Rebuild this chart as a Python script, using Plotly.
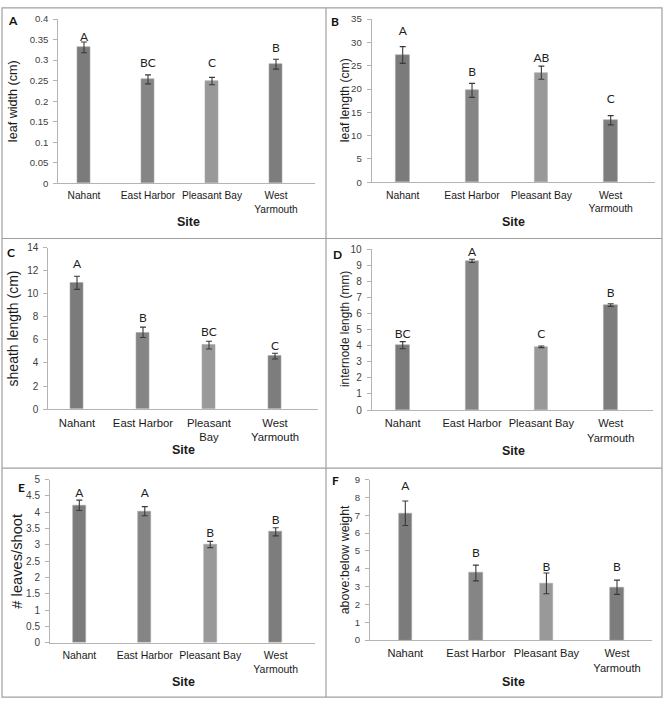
import plotly.graph_objects as go

# ---------------- data ----------------
sites = ["Nahant", "East Harbor", "Pleasant Bay", "West Yarmouth"]
site_ticks = ["Nahant", "East Harbor", "Pleasant Bay", "West<br>Yarmouth"]
site_ticks_wrapped = ["Nahant", "East Harbor", "Pleasant<br>Bay", "West<br>Yarmouth"]

leaf_width = [0.331, 0.253, 0.249, 0.290]
leaf_width_err = [0.013, 0.011, 0.009, 0.012]
leaf_width_letters = ["A", "BC", "C", "B"]
leaf_width_letter_y = [0.354, 0.291, 0.291, 0.326]
leaf_width_ticks = [0, 0.05, 0.1, 0.15, 0.2, 0.25, 0.3, 0.35, 0.4]
leaf_width_ticklabels = ["0", "0.05", "0.1", "0.15", "0.2", "0.25", "0.3", "0.35", "0.4"]

leaf_length = [27.3, 19.7, 23.5, 13.3]
leaf_length_err = [1.8, 1.5, 1.4, 1.0]
leaf_length_letters = ["A", "B", "AB", "C"]
leaf_length_letter_y = [32.3, 23.5, 26.5, 17.6]
leaf_length_ticks = [0, 5, 10, 15, 20, 25, 30, 35]

sheath_length = [10.96, 6.66, 5.55, 4.60]
sheath_length_err = [0.57, 0.45, 0.34, 0.25]
sheath_length_letters = ["A", "B", "BC", "C"]
sheath_length_letter_y = [12.5, 7.83, 6.6, 5.41]
sheath_length_ticks = [0, 2, 4, 6, 8, 10, 12, 14]

internode_length = [4.03, 9.27, 3.93, 6.52]
internode_length_err = [0.22, 0.10, 0.05, 0.08]
internode_length_letters = ["BC", "A", "C", "B"]
internode_length_letter_y = [4.68, 9.73, 4.68, 7.23]
internode_length_ticks = [0, 1, 2, 3, 4, 5, 6, 7, 8, 9, 10]

leaves_per_shoot = [4.21, 4.03, 3.01, 3.40]
leaves_per_shoot_err = [0.16, 0.14, 0.095, 0.125]
leaves_per_shoot_letters = ["A", "A", "B", "B"]
leaves_per_shoot_letter_y = [4.55, 4.55, 3.32, 3.74]
leaves_per_shoot_ticks = [0, 0.5, 1, 1.5, 2, 2.5, 3, 3.5, 4, 4.5, 5]
leaves_per_shoot_ticklabels = ["0", "0.5", "1", "1.5", "2", "2.5", "3", "3.5", "4", "4.5", "5"]

above_below = [7.11, 3.76, 3.18, 2.96]
above_below_err = [0.69, 0.44, 0.58, 0.40]
above_below_letters = ["A", "B", "B", "B"]
above_below_letter_y = [8.6, 4.83, 4.04, 4.04]
above_below_ticks = [0, 1, 2, 3, 4, 5, 6, 7, 8, 9]

# ---------------- layout helpers ----------------
W, H = 665, 708
BAR_COLORS = ["#7b7b7b", "#858585", "#999999", "#7d7d7d"]
AXIS_COLOR = "#b4b4b4"
FONT = "Liberation Sans"
LETTER_FONT = "Lato"


def px_x(x):
    return x / W


def px_y(y):
    return 1 - y / H


panels = [
    dict(tag="A", vals=leaf_width, err=leaf_width_err, letters=leaf_width_letters,
         letter_y=leaf_width_letter_y, ticks=leaf_width_ticks, ticklabels=leaf_width_ticklabels,
         cats=site_ticks, ytitle="leaf width (cm)", ymax=0.4,
         box=(58.3, 315, 13.3, 180.3), centers=(84, 276), ytitle_x=13, ytitle_size=12.6,
         cat_size=10.2, tick_size=9.6, site_y=220, site_x=188, tag_xy=(13, 15)),
    dict(tag="B", vals=leaf_length, err=leaf_length_err, letters=leaf_length_letters,
         letter_y=leaf_length_letter_y, ticks=leaf_length_ticks, ticklabels=None,
         cats=site_ticks, ytitle="leaf length (cm)", ymax=35,
         box=(371.7, 655, 13.3, 179.3), centers=(402.7, 610.7), ytitle_x=344.5, ytitle_size=12.2,
         cat_size=10.4, tick_size=9.6, site_y=220, site_x=513, tag_xy=(335, 16)),
    dict(tag="C", vals=sheath_length, err=sheath_length_err, letters=sheath_length_letters,
         letter_y=sheath_length_letter_y, ticks=sheath_length_ticks, ticklabels=None,
         cats=site_ticks_wrapped, ytitle="sheath length (cm)", ymax=14,
         box=(48.3, 318.3, 246, 410), centers=(77, 275), ytitle_x=13, ytitle_size=14,
         cat_size=11.3, tick_size=10, site_y=452, site_x=183, tag_xy=(11, 251)),
    dict(tag="D", vals=internode_length, err=internode_length_err, letters=internode_length_letters,
         letter_y=internode_length_letter_y, ticks=internode_length_ticks, ticklabels=None,
         cats=site_ticks, ytitle="internode length (mm)", ymax=10,
         box=(371.7, 653.3, 247.3, 411), centers=(402.7, 610.7), ytitle_x=344.5, ytitle_size=11.9,
         cat_size=11.1, tick_size=10, site_y=453, site_x=513, tag_xy=(337, 253)),
    dict(tag="E", vals=leaves_per_shoot, err=leaves_per_shoot_err, letters=leaves_per_shoot_letters,
         letter_y=leaves_per_shoot_letter_y, ticks=leaves_per_shoot_ticks,
         ticklabels=leaves_per_shoot_ticklabels,
         cats=site_ticks, ytitle="# leaves/shoot", ymax=5,
         box=(50, 315, 481.7, 647.7), centers=(79.3, 275.7), ytitle_x=17.5, ytitle_size=14.7,
         cat_size=10.5, tick_size=10, site_y=688, site_x=183, tag_xy=(21, 490)),
    dict(tag="F", vals=above_below, err=above_below_err, letters=above_below_letters,
         letter_y=above_below_letter_y, ticks=above_below_ticks, ticklabels=None,
         cats=site_ticks, ytitle="above:below weight", ymax=9,
         box=(370, 651.7, 481.7, 645), centers=(405.3, 617), ytitle_x=344.5, ytitle_size=12.4,
         cat_size=11.1, tick_size=9.6, site_y=688, site_x=513, tag_xy=(335, 483)),
]

fig = go.Figure()
annotations = []
layout_axes = {}

for i, p in enumerate(panels, start=1):
    xname = "x" if i == 1 else f"x{i}"
    yname = "y" if i == 1 else f"y{i}"
    xl, xr, yt, yb = p["box"]
    c0, c3 = p["centers"]
    step = (c3 - c0) / 3.0
    xrange = [-(c0 - xl) / step, 3 + (xr - c3) / step]
    bar_w = 13.3 / step

    fig.add_trace(go.Bar(
        x=sites, y=p["vals"], xaxis=xname, yaxis=yname,
        width=[bar_w] * 4,
        marker=dict(color=BAR_COLORS, line=dict(color="#a8a8a8", width=0.6)),
        error_y=dict(type="data", array=p["err"], visible=True,
                     color="#3a3a3a", thickness=1.1, width=3),
        showlegend=False, hoverinfo="skip",
    ))
    fig.add_trace(go.Scatter(
        x=sites, y=p["letter_y"], xaxis=xname, yaxis=yname,
        mode="text", text=p["letters"], textposition="middle center",
        textfont=dict(family=LETTER_FONT, size=12, color="#1f1f1f"),
        showlegend=False, hoverinfo="skip", cliponaxis=False,
    ))

    xkey = "xaxis" if i == 1 else f"xaxis{i}"
    ykey = "yaxis" if i == 1 else f"yaxis{i}"
    layout_axes[xkey] = dict(
        domain=[px_x(xl), px_x(xr)], anchor=yname,
        type="category", categoryorder="array", categoryarray=sites,
        range=xrange, tickmode="array", tickvals=sites, ticktext=p["cats"],
        showline=True, linecolor=AXIS_COLOR, linewidth=1,
        showgrid=False, zeroline=False, ticks="", ticklabelstandoff=3,
        tickfont=dict(family=FONT, size=p["cat_size"], color="#1a1a1a"),
        fixedrange=True,
    )
    yaxis = dict(
        domain=[px_y(yb), px_y(yt)], anchor=xname,
        range=[0, p["ymax"]], tickmode="array", tickvals=p["ticks"],
        showline=True, linecolor=AXIS_COLOR, linewidth=1,
        showgrid=False, zeroline=False, ticks="outside", ticklen=4,
        tickcolor=AXIS_COLOR, tickwidth=1, ticklabelstandoff=3,
        tickfont=dict(family=FONT, size=p["tick_size"], color="#404040"),
        fixedrange=True,
    )
    if p["ticklabels"] is not None:
        yaxis["ticktext"] = p["ticklabels"]
    layout_axes[ykey] = yaxis

    # y axis title
    annotations.append(dict(
        text=p["ytitle"], xref="paper", yref="paper",
        x=px_x(p["ytitle_x"]), y=px_y((yt + yb) / 2), textangle=-90,
        showarrow=False, xanchor="center", yanchor="middle",
        font=dict(family=FONT, size=p["ytitle_size"], color="#1a1a1a"),
    ))
    # x axis title
    annotations.append(dict(
        text="<b>Site</b>", xref="paper", yref="paper",
        x=px_x(p["site_x"]), y=px_y(p["site_y"]),
        showarrow=False, xanchor="center", yanchor="middle",
        font=dict(family=FONT, size=12.5, color="#1a1a1a"),
    ))
    # panel tag
    annotations.append(dict(
        text=f"<b>{p['tag']}</b>", xref="paper", yref="paper",
        x=px_x(p["tag_xy"][0]), y=px_y(p["tag_xy"][1]),
        showarrow=False, xanchor="center", yanchor="middle",
        font=dict(family=LETTER_FONT, size=12, color="#111111"),
    ))

# panel borders
BORDER = "#a0a0a0"
shapes = [
    dict(type="rect", xref="paper", yref="paper",
         x0=px_x(2), x1=px_x(662), y0=px_y(703), y1=px_y(2),
         line=dict(color=BORDER, width=1.2)),
    dict(type="line", xref="paper", yref="paper",
         x0=px_x(326), x1=px_x(326), y0=px_y(703), y1=px_y(2),
         line=dict(color=BORDER, width=1.2)),
    dict(type="line", xref="paper", yref="paper",
         x0=px_x(2), x1=px_x(662), y0=px_y(236.5), y1=px_y(236.5),
         line=dict(color=BORDER, width=1.2)),
    dict(type="line", xref="paper", yref="paper",
         x0=px_x(2), x1=px_x(662), y0=px_y(470), y1=px_y(470),
         line=dict(color=BORDER, width=1.2)),
]

fig.update_layout(
    width=W, height=H,
    margin=dict(l=0, r=0, t=0, b=0),
    paper_bgcolor="white", plot_bgcolor="white",
    annotations=annotations, shapes=shapes,
    bargap=0, showlegend=False,
    **layout_axes,
)

fig.write_html(
    "out.html",
    config={"displayModeBar": False},
    post_script="document.body.style.margin='0';document.body.style.overflow='hidden';",
)
